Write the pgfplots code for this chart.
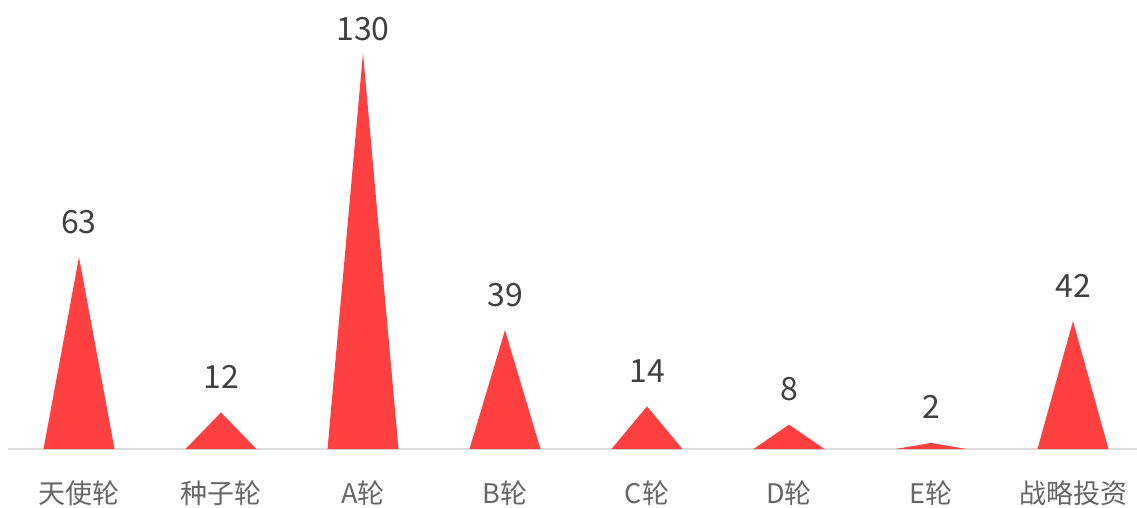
\documentclass[border=0pt]{standalone}
\usepackage{pgfplots}
\pgfplotsset{compat=1.18}
\usepackage{fontspec}
\setmainfont{Noto Sans CJK SC}
\definecolor{spike}{RGB}{255,64,64}
\definecolor{lbl}{RGB}{64,64,64}
\definecolor{tick}{RGB}{102,102,102}
\definecolor{baseline}{RGB}{220,220,220}
\begin{document}
\begin{tikzpicture}
\begin{axis}[
    at={(8pt,58pt)}, anchor=south west,
    scale only axis,
    width=1136pt, height=396pt,
    xmin=-0.5, xmax=7.5,
    ymin=0, ymax=130,
    axis x line*=bottom,
    axis y line=none,
    x axis line style={draw=baseline, line width=1.2pt},
    xtick={0,...,7},
    xticklabels={天使轮,种子轮,A轮,B轮,C轮,D轮,E轮,战略投资},
    major tick length=0pt,
    xticklabel style={anchor=base, yshift=-54pt, font=\fontsize{27}{27}\selectfont, text=tick},
    ytick=\empty,
    clip=false,
    /pgf/number format/assume math mode=true,
]
% each spike: left foot, peak, right foot
\addplot[fill=spike, draw=none] coordinates {(-0.25,0) (0,63) (0.25,0)} --cycle;
\addplot[fill=spike, draw=none] coordinates {(0.75,0) (1,12) (1.25,0)} --cycle;
\addplot[fill=spike, draw=none] coordinates {(1.75,0) (2,130) (2.25,0)} --cycle;
\addplot[fill=spike, draw=none] coordinates {(2.75,0) (3,39) (3.25,0)} --cycle;
\addplot[fill=spike, draw=none] coordinates {(3.75,0) (4,14) (4.25,0)} --cycle;
\addplot[fill=spike, draw=none] coordinates {(4.75,0) (5,8) (5.25,0)} --cycle;
\addplot[fill=spike, draw=none] coordinates {(5.75,0) (6,2) (6.25,0)} --cycle;
\addplot[fill=spike, draw=none] coordinates {(6.75,0) (7,42) (7.25,0)} --cycle;
% value labels
\addplot[draw=none, mark=none, nodes near coords,
    every node near coord/.append style={anchor=base, yshift=24pt, text=lbl,
        font=\fontsize{32}{32}\selectfont}]
    coordinates {(0,63) (1,12) (3,39) (4,14) (5,8) (6,2) (7,42)};
\addplot[draw=none, mark=none, nodes near coords,
    every node near coord/.append style={anchor=base, yshift=13pt, text=lbl,
        font=\fontsize{32}{32}\selectfont}]
    coordinates {(2,130)};
\end{axis}
\pgfresetboundingbox
\path (0,0) rectangle (1137pt,507pt);
\end{tikzpicture}
\end{document}
